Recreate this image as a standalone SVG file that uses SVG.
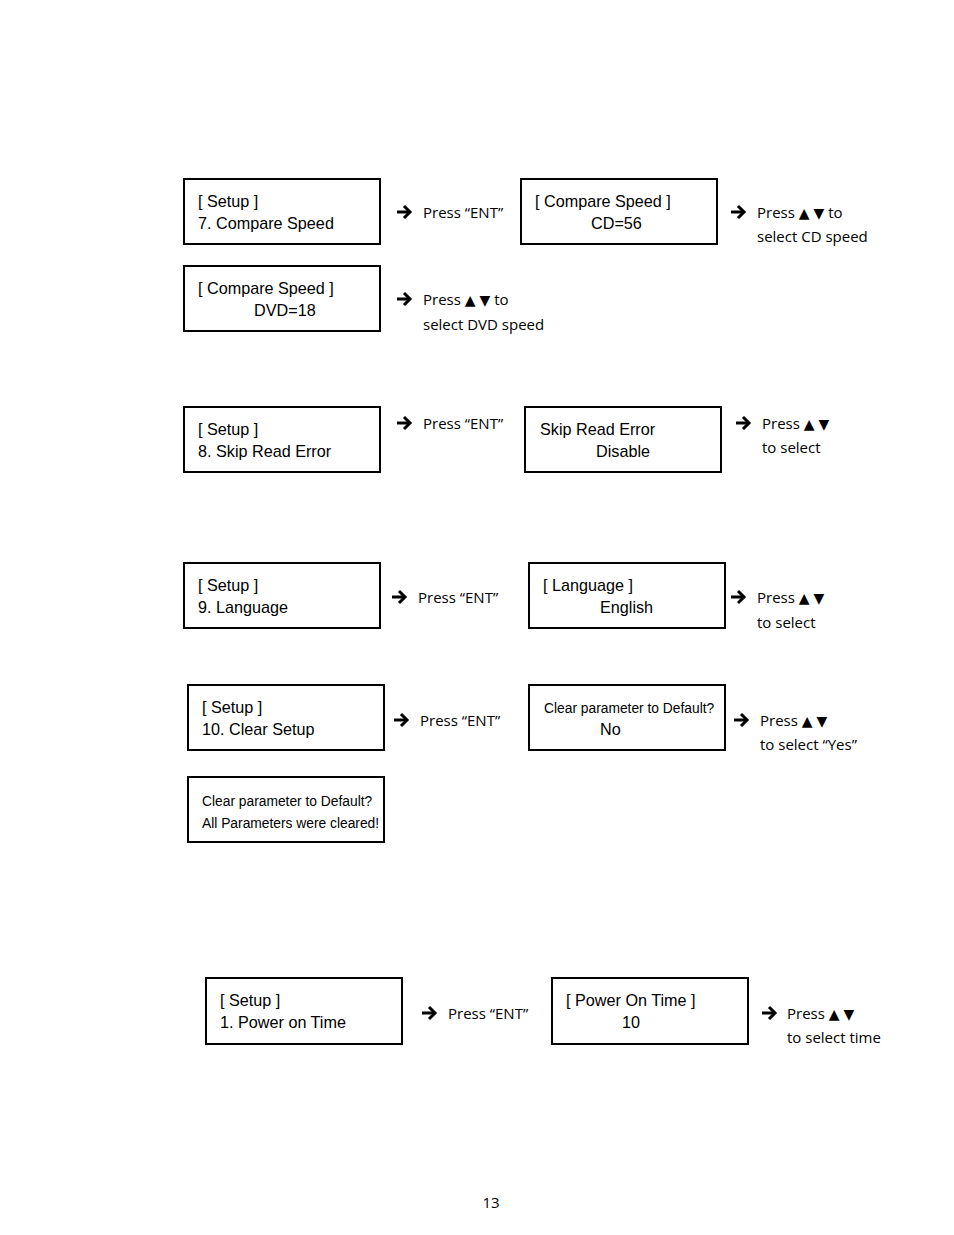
<svg xmlns="http://www.w3.org/2000/svg" width="954" height="1235" viewBox="0 0 954 1235">
<style>
.box{fill:#fff;stroke:#000;stroke-width:2}
.bt{font-family:"Liberation Sans",Arial,sans-serif;font-size:16.2px;fill:#000}
.sm{font-family:"Liberation Sans",Arial,sans-serif;font-size:13.8px;fill:#000}
.lb{font-family:"Open Sans","Noto Sans",sans-serif;font-size:15px;fill:#000}
.tr{font-family:"DejaVu Sans",sans-serif;font-size:14px}
.ar{fill:none;stroke:#000;stroke-width:3}
</style>
<defs>
<g id="arr"><path class="ar" d="M0,0 H11"/><path class="ar" d="M7,-6 L13,0 L7,6"/></g>
</defs>
<rect width="954" height="1235" fill="#fff"/>
<g id="n1"><rect class="box" x="184" y="179" width="196" height="65"/><text class="bt" x="198" y="207">[ Setup ]</text><text class="bt" x="198" y="229">7. Compare Speed</text></g>
<g id="n2"><rect class="box" x="521" y="179" width="196" height="65"/><text class="bt" x="535" y="207">[ Compare Speed ]</text><text class="bt" x="591" y="229">CD=56</text></g>
<g id="n3"><rect class="box" x="184" y="266" width="196" height="65"/><text class="bt" x="198" y="294">[ Compare Speed ]</text><text class="bt" x="254" y="316">DVD=18</text></g>
<g id="n4"><rect class="box" x="184" y="407" width="196" height="65"/><text class="bt" x="198" y="435">[ Setup ]</text><text class="bt" x="198" y="457">8. Skip Read Error</text></g>
<g id="n5"><rect class="box" x="525" y="407" width="196" height="65"/><text class="bt" x="540" y="435">Skip Read Error</text><text class="bt" x="596" y="457">Disable</text></g>
<g id="n6"><rect class="box" x="184" y="563" width="196" height="65"/><text class="bt" x="198" y="591">[ Setup ]</text><text class="bt" x="198" y="613">9. Language</text></g>
<g id="n7"><rect class="box" x="529" y="563" width="196" height="65"/><text class="bt" x="543" y="591">[ Language ]</text><text class="bt" x="600" y="613">English</text></g>
<g id="n8"><rect class="box" x="188" y="685" width="196" height="65"/><text class="bt" x="202" y="713">[ Setup ]</text><text class="bt" x="202" y="735">10. Clear Setup</text></g>
<g id="n9"><rect class="box" x="529" y="685" width="196" height="65"/><text class="sm" x="544" y="713">Clear parameter to Default?</text><text class="bt" x="600" y="735">No</text></g>
<g id="n10"><rect class="box" x="188" y="777" width="196" height="65"/><text class="sm" x="202" y="806">Clear parameter to Default?</text><text class="sm" x="202" y="828">All Parameters were cleared!</text></g>
<g id="n11"><rect class="box" x="206" y="978" width="196" height="66"/><text class="bt" x="220" y="1006">[ Setup ]</text><text class="bt" x="220" y="1028">1. Power on Time</text></g>
<g id="n12"><rect class="box" x="552" y="978" width="196" height="66"/><text class="bt" x="566" y="1006">[ Power On Time ]</text><text class="bt" x="622" y="1028">10</text></g>
<g id="connectors">
<use href="#arr" x="397" y="212"/>
<use href="#arr" x="731" y="212"/>
<use href="#arr" x="397" y="299"/>
<use href="#arr" x="397" y="423"/>
<use href="#arr" x="736" y="423"/>
<use href="#arr" x="392" y="597"/>
<use href="#arr" x="731" y="597"/>
<use href="#arr" x="394" y="720"/>
<use href="#arr" x="734" y="720"/>
<use href="#arr" x="422" y="1013"/>
<use href="#arr" x="762" y="1013"/>
</g>
<g id="labels">
<text class="lb" x="423" y="218">Press “ENT”</text>
<text class="lb" x="757" y="218">Press <tspan class="tr">▲</tspan><tspan class="tr" dx="4">▼</tspan> to</text>
<text class="lb" x="757" y="242">select CD speed</text>
<text class="lb" x="423" y="305">Press <tspan class="tr">▲</tspan><tspan class="tr" dx="4">▼</tspan> to</text>
<text class="lb" x="423" y="330">select DVD speed</text>
<text class="lb" x="423" y="429">Press “ENT”</text>
<text class="lb" x="762" y="429">Press <tspan class="tr">▲</tspan><tspan class="tr" dx="4">▼</tspan></text>
<text class="lb" x="762" y="453">to select</text>
<text class="lb" x="418" y="603">Press “ENT”</text>
<text class="lb" x="757" y="603">Press <tspan class="tr">▲</tspan><tspan class="tr" dx="4">▼</tspan></text>
<text class="lb" x="757" y="628">to select</text>
<text class="lb" x="420" y="726">Press “ENT”</text>
<text class="lb" x="760" y="726">Press <tspan class="tr">▲</tspan><tspan class="tr" dx="4">▼</tspan></text>
<text class="lb" x="760" y="750">to select “Yes”</text>
<text class="lb" x="448" y="1019">Press “ENT”</text>
<text class="lb" x="787" y="1019">Press <tspan class="tr">▲</tspan><tspan class="tr" dx="4">▼</tspan></text>
<text class="lb" x="787" y="1043">to select time</text>
<text class="lb" x="491" y="1208" text-anchor="middle">13</text>
</g>
</svg>
